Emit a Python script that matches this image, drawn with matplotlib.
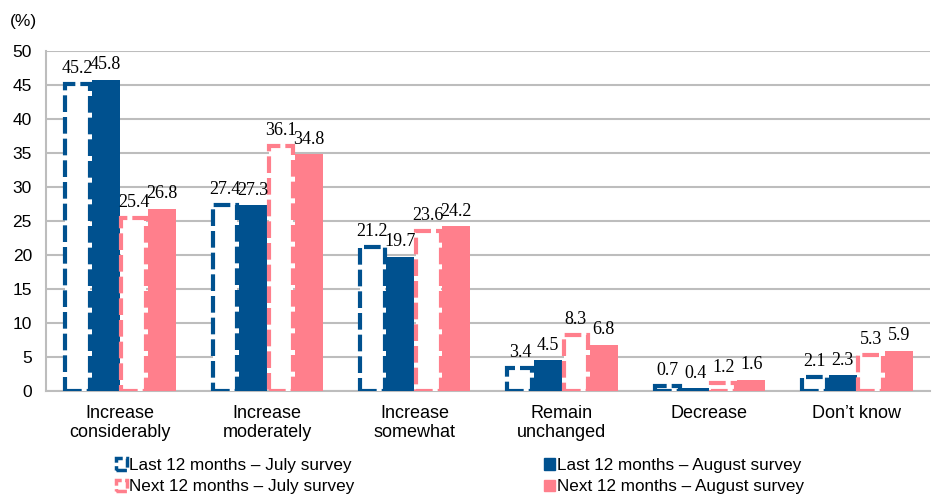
import numpy as np
import matplotlib.pyplot as plt
from matplotlib.patches import Patch

categories = ["Increase\nconsiderably", "Increase\nmoderately", "Increase\nsomewhat",
              "Remain\nunchanged", "Decrease", "Don\u2019t know"]
last_july = [45.2, 27.4, 21.2, 3.4, 0.7, 2.1]
last_august = [45.8, 27.3, 19.7, 4.5, 0.4, 2.3]
next_july = [25.4, 36.1, 23.6, 8.3, 1.2, 5.3]
next_august = [26.8, 34.8, 24.2, 6.8, 1.6, 5.9]
series_names = ["Last 12 months \u2013 July survey", "Last 12 months \u2013 August survey",
                "Next 12 months \u2013 July survey", "Next 12 months \u2013 August survey"]

blue = "#00518F"
pink = "#FF7F8C"

plt.rcParams["font.family"] = ["Liberation Sans", "DejaVu Sans"]

fig = plt.figure(figsize=(9.36, 4.95), dpi=100)
ax = fig.add_axes([0.049, 0.21, 0.945, 0.687])

x = np.arange(len(categories))
w = 0.19
series = [(last_july, blue, True), (last_august, blue, False),
          (next_july, pink, True), (next_august, pink, False)]
for i, (vals, col, dashed) in enumerate(series):
    pos = x + (i - 1.5) * w
    if dashed:
        ax.bar(pos, vals, w * 0.88, facecolor="white", edgecolor=col,
               linewidth=3, linestyle=(0, (4, 1.2)), zorder=3)
    else:
        ax.bar(pos, vals, w, color=col, zorder=3)
    for p, v in zip(pos, vals):
        ax.text(p, v + 1.0, f"{v:.1f}", ha="center", va="bottom",
                fontsize=13, family="Liberation Serif", zorder=4)

ax.set_xlim(-0.5, len(categories) - 0.5)
ax.set_ylim(0, 50)
ax.set_yticks(range(0, 51, 5))
ax.set_xticks(x)
ax.set_xticklabels(categories, fontsize=13, linespacing=1.15)
ax.tick_params(axis="y", labelsize=12.5, length=0, pad=10)
ax.tick_params(axis="x", length=0, pad=10)
ax.yaxis.grid(True, color="#BDBDBD", linewidth=1.5, zorder=0)
for side in ["top", "right"]:
    ax.spines[side].set_visible(False)
for side in ["left", "bottom"]:
    ax.spines[side].set_color("#BDBDBD")
    ax.spines[side].set_linewidth(1.5)

fig.text(0.011, 0.948, "(%)", fontsize=12.5)

handles = [
    Patch(facecolor="white", edgecolor=blue, linewidth=2.5, linestyle=(0, (3, 1))),
    Patch(facecolor="white", edgecolor=pink, linewidth=2.5, linestyle=(0, (3, 1))),
    Patch(facecolor=blue, edgecolor=blue),
    Patch(facecolor=pink, edgecolor=pink),
]
labels = [series_names[0], series_names[2], series_names[1], series_names[3]]
fig.legend(handles, labels, ncol=2, loc="lower left", bbox_to_anchor=(0.108, -0.03),
           frameon=False, fontsize=12.3, handlelength=0.6, handleheight=0.7,
           handletextpad=0.15, columnspacing=11.1, labelspacing=0.4)

fig.savefig("out.png", dpi=100)
